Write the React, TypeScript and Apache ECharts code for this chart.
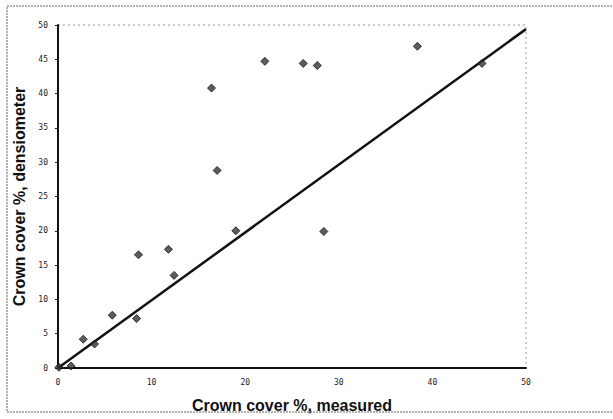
import React, { useEffect, useRef } from "react";
import * as echarts from "echarts";

const measured = [22.1, 26.2, 27.7, 16.4, 17.0, 38.4, 45.3, 19.0, 28.4, 11.8, 8.6, 12.4, 5.8, 8.4, 2.7, 3.9, 1.4, 0.1];
const densiometer = [44.7, 44.4, 44.1, 40.8, 28.8, 46.9, 44.4, 20.0, 19.9, 17.3, 16.5, 13.5, 7.7, 7.2, 4.2, 3.5, 0.3, 0.1];
const fitLine = [[0, 0], [50, 49.4]];
const xTicks = [0, 10, 20, 30, 40, 50];
const yTicks = [0, 5, 10, 15, 20, 25, 30, 35, 40, 45, 50];

export default function App() {
  const ref = useRef<HTMLDivElement>(null);
  useEffect(() => {
    const chart = echarts.init(ref.current!, null, { renderer: "svg" });
    const pts = measured.map((x, i) => [x, densiometer[i]]);
    chart.setOption({
      animation: false,
      backgroundColor: "#fff",
      grid: { left: 58, right: 87, top: 25, bottom: 51 },
      graphic: [
        {
          type: "rect",
          shape: { x: 7, y: 6, width: 620, height: 406 },
          style: { fill: "none", stroke: "#666", lineWidth: 1, lineDash: [2, 1] },
          silent: true,
        },
        {
          type: "polyline",
          shape: { points: [[58, 25], [526, 25], [526, 367]] },
          style: { fill: "none", stroke: "#999", lineWidth: 1, lineDash: [2, 3] },
          silent: true,
        },
      ],
      xAxis: {
        type: "value",
        min: 0,
        max: 50,
        interval: 10,
        name: "Crown cover %, measured",
        nameLocation: "middle",
        nameGap: 29,
        nameTextStyle: { fontFamily: "Liberation Sans", fontWeight: "bold", fontSize: 16, color: "#111" },
        axisLine: { show: true, lineStyle: { color: "#111", width: 2 } },
        axisTick: { show: false },
        axisLabel: {
          fontFamily: "DejaVu Sans Mono",
          fontSize: 8,
          color: "#222",
          margin: 10,
          formatter: (v: number) => (xTicks.includes(v) ? String(v) : ""),
        },
        splitLine: { show: false },
      },
      yAxis: {
        type: "value",
        min: 0,
        max: 50,
        interval: 5,
        name: "Crown cover %, densiometer",
        nameLocation: "middle",
        nameGap: 28,
        nameTextStyle: { fontFamily: "Liberation Sans", fontWeight: "bold", fontSize: 16, color: "#111" },
        axisLine: { show: true, lineStyle: { color: "#111", width: 2 } },
        axisTick: { show: true, length: 3, lineStyle: { color: "#111" } },
        axisLabel: {
          fontFamily: "DejaVu Sans Mono",
          fontSize: 8,
          color: "#222",
          margin: 10,
          formatter: (v: number) => (yTicks.includes(v) ? String(v) : ""),
        },
        splitLine: { show: false },
      },
      series: [
        {
          type: "line",
          data: fitLine,
          symbol: "none",
          lineStyle: { color: "#111", width: 2.5 },
          z: 2,
        },
        {
          type: "scatter",
          data: pts,
          symbol: "diamond",
          symbolSize: 8,
          itemStyle: { color: "#333", borderColor: "#111", borderWidth: 1 },
          z: 3,
        },
      ],
    });
    return () => chart.dispose();
  }, []);
  return <div ref={ref} style={{ width: 613, height: 419, position: "absolute", left: 0, top: 0 }} />;
}
